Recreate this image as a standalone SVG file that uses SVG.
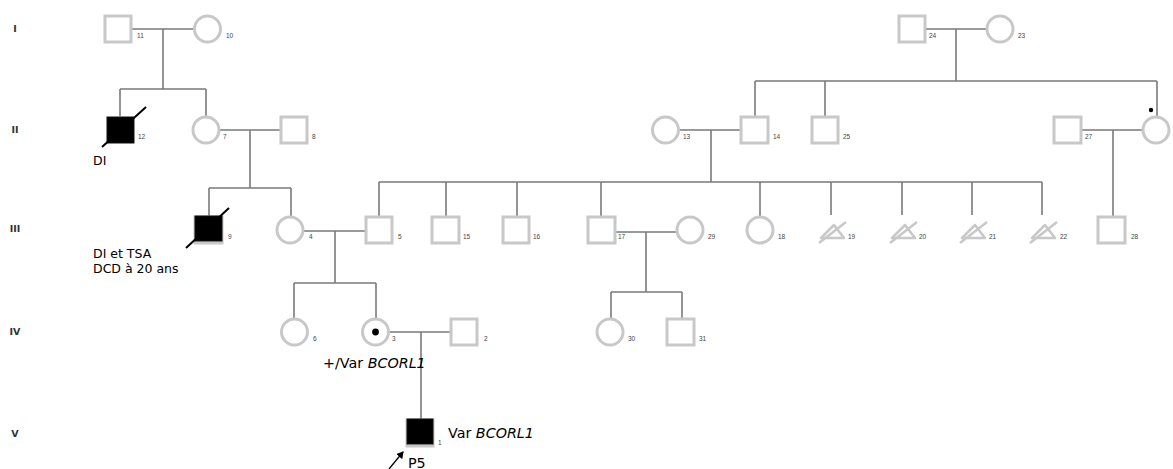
<svg xmlns="http://www.w3.org/2000/svg" width="1173" height="469" viewBox="0 0 1173 469">
<style>
.sym{fill:#fff;stroke:#c8c8c8;stroke-width:3}
.aff{fill:#000;stroke:#111;stroke-width:1}
.ln{stroke:#7a7a7a;stroke-width:1.6;fill:none}
.dec{stroke:#000;stroke-width:2;fill:none}
.tri{stroke:#c8c8c8;stroke-width:2.5;fill:none;stroke-linejoin:round}
.num{font-family:"Liberation Sans",Arial,sans-serif;font-size:6.5px;fill:#444}
.gen{font-family:"DejaVu Sans",sans-serif;font-size:9.5px;font-weight:bold;fill:#333}
.lab{font-family:"DejaVu Sans",sans-serif;font-size:12.5px;fill:#000}
.var{font-family:"DejaVu Sans",sans-serif;font-size:14.3px;fill:#000}
</style>
<defs>
<marker id="ah" markerWidth="8" markerHeight="8" refX="6" refY="4" orient="auto" markerUnits="userSpaceOnUse">
<path d="M0,0 L7,4 L0,8 z" fill="#000"/>
</marker>
</defs>
<rect width="1173" height="469" fill="#fff"/>
<g id="generations">
<text class="gen" x="15" y="32" text-anchor="middle">I</text>
<text class="gen" x="15" y="133" text-anchor="middle">II</text>
<text class="gen" x="15" y="232" text-anchor="middle">III</text>
<text class="gen" x="15" y="335" text-anchor="middle">IV</text>
<text class="gen" x="15" y="437" text-anchor="middle">V</text>
</g>
<g id="connectors">
<path class="ln" d="M131,29H194 M163,29V89 M120,89H206 M120,89V116 M206,89V116"/>
<path class="ln" d="M925,29H987 M956,29V81 M755,81H1157 M755,81V117 M825,81V117 M1157,81V117"/>
<path class="ln" d="M219,130H281 M250,130V188 M209,188H291 M209,188V216 M291,188V216"/>
<path class="ln" d="M679,130H741 M711,130V182 M379,182H1042 M379,182V217 M446,182V217 M517,182V217 M601,182V217 M760,182V217 M831,182V215 M902,182V215 M972,182V215 M1042,182V215"/>
<path class="ln" d="M1081,130H1143 M1113,130V217"/>
<path class="ln" d="M303,231H366 M335,231V283 M294,283H376 M294,283V319 M376,283V319"/>
<path class="ln" d="M615,232H677 M646,232V292 M611,292H682 M611,292V319 M682,292V319"/>
<path class="ln" d="M389,332H451 M421,332V420"/>
<line x1="389" y1="469" x2="403" y2="452" stroke="#000" stroke-width="1.3" marker-end="url(#ah)"/>
</g>
<g id="n11"><rect class="sym" x="105" y="16" width="26" height="26"/><text class="num" x="137" y="38">11</text></g>
<g id="n10"><circle class="sym" cx="207.5" cy="29" r="13"/><text class="num" x="226" y="38">10</text></g>
<g id="n24"><rect class="sym" x="899" y="16" width="26" height="26"/><text class="num" x="929" y="38">24</text></g>
<g id="n23"><circle class="sym" cx="1000" cy="29" r="13"/><text class="num" x="1018" y="38">23</text></g>
<g id="n12"><rect class="aff" x="107" y="117" width="27" height="26"/><line class="dec" x1="102" y1="147" x2="146" y2="107"/><text class="num" x="138" y="139">12</text><text class="lab" x="93" y="165">DI</text></g>
<g id="n7"><circle class="sym" cx="206" cy="130" r="13"/><text class="num" x="223" y="139">7</text></g>
<g id="n8"><rect class="sym" x="281" y="117" width="26" height="26"/><text class="num" x="312" y="139">8</text></g>
<g id="n13"><circle class="sym" cx="665.5" cy="130" r="13"/><text class="num" x="683" y="139">13</text></g>
<g id="n14"><rect class="sym" x="741" y="117" width="27" height="26"/><text class="num" x="773" y="139">14</text></g>
<g id="n25"><rect class="sym" x="812" y="117" width="26" height="26"/><text class="num" x="843" y="139">25</text></g>
<g id="n27"><rect class="sym" x="1054" y="117" width="27" height="26"/><text class="num" x="1085" y="139">27</text></g>
<g id="n26"><circle class="sym" cx="1156" cy="130" r="13"/><circle cx="1151" cy="110" r="2.2" fill="#000"/></g>
<g id="n9"><rect class="sym" x="195" y="217" width="27" height="26"/><rect class="aff" x="195" y="216" width="27" height="25"/><line class="dec" x1="186" y1="248" x2="229" y2="208"/><text class="num" x="228" y="239">9</text><text class="lab" x="93" y="258">DI et TSA</text><text class="lab" x="93" y="273">DCD à 20 ans</text></g>
<g id="n4"><circle class="sym" cx="290" cy="230" r="13"/><text class="num" x="309" y="239">4</text></g>
<g id="n5"><rect class="sym" x="366" y="217" width="26" height="26"/><text class="num" x="398" y="239">5</text></g>
<g id="n15"><rect class="sym" x="432" y="217" width="27" height="26"/><text class="num" x="463" y="239">15</text></g>
<g id="n16"><rect class="sym" x="503" y="217" width="26" height="26"/><text class="num" x="533" y="239">16</text></g>
<g id="n17"><rect class="sym" x="588" y="217" width="27" height="26"/><text class="num" x="618" y="239">17</text></g>
<g id="n29"><circle class="sym" cx="690" cy="230" r="13"/><text class="num" x="708" y="239">29</text></g>
<g id="n18"><circle class="sym" cx="760" cy="230" r="13"/><text class="num" x="778" y="239">18</text></g>
<g id="n19"><path class="tri" d="M821,238 L834,225 L844,238 Z M819,243 L846,222"/><text class="num" x="848" y="239">19</text></g>
<g id="n20"><path class="tri" d="M892,238 L905,225 L915,238 Z M890,243 L917,222"/><text class="num" x="919" y="239">20</text></g>
<g id="n21"><path class="tri" d="M962,238 L975,225 L985,238 Z M960,243 L987,222"/><text class="num" x="989" y="239">21</text></g>
<g id="n22"><path class="tri" d="M1032,238 L1045,225 L1055,238 Z M1030,243 L1057,222"/><text class="num" x="1060" y="239">22</text></g>
<g id="n28"><rect class="sym" x="1098" y="217" width="27" height="26"/><text class="num" x="1131" y="239">28</text></g>
<g id="n6"><circle class="sym" cx="294.5" cy="332" r="13"/><text class="num" x="313" y="341">6</text></g>
<g id="n3"><circle class="sym" cx="375.5" cy="332" r="13"/><circle cx="375.5" cy="332" r="3.4" fill="#000"/><text class="num" x="392" y="341">3</text><text class="var" x="323" y="368">+/Var <tspan font-style="italic">BCORL1</tspan></text></g>
<g id="n2"><rect class="sym" x="451" y="319" width="26" height="26"/><text class="num" x="484" y="341">2</text></g>
<g id="n30"><circle class="sym" cx="610" cy="332" r="13"/><text class="num" x="628" y="341">30</text></g>
<g id="n31"><rect class="sym" x="667" y="319" width="27" height="26"/><text class="num" x="699" y="341">31</text></g>
<g id="n1"><rect class="sym" x="407" y="420" width="26" height="26"/><rect class="aff" x="407" y="419" width="26" height="25"/><text class="num" x="438" y="445">1</text><text class="var" x="448" y="438">Var <tspan font-style="italic">BCORL1</tspan></text><text class="var" x="408" y="468" font-size="17px">P5</text></g>
</svg>
